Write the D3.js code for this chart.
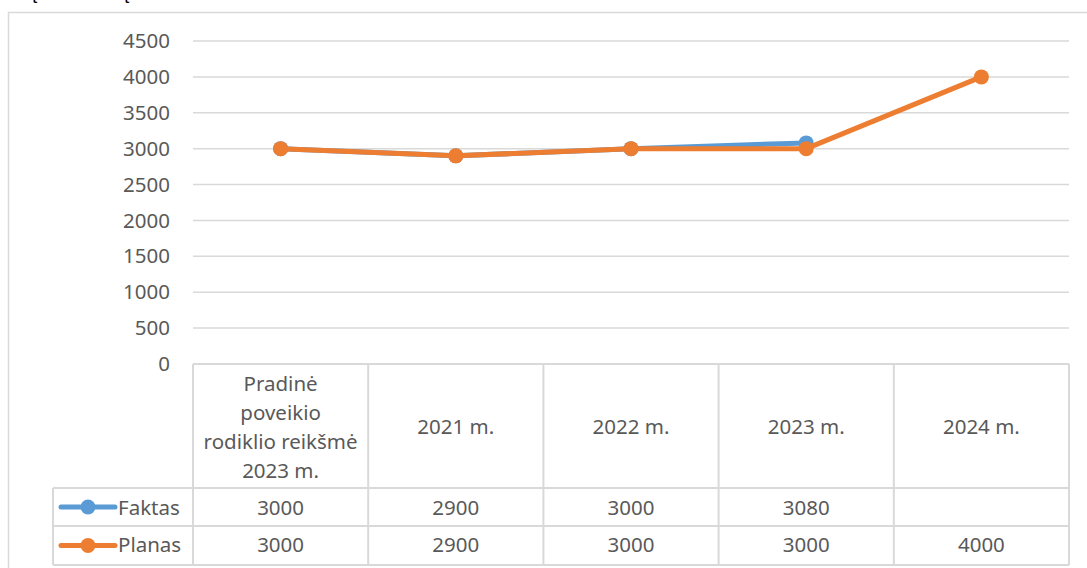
<!DOCTYPE html>
<html>
<head>
<meta charset="utf-8">
<script src="https://cdn.jsdelivr.net/npm/d3@7"></script>
<style>
  body { margin: 0; background: #fff; }
  svg { display: block; font-family: "Noto Sans", sans-serif; }
</style>
</head>
<body>
<div class="root"></div>
<script>
// data
var categories = ['Pradinė poveikio rodiklio reikšmė 2023 m.', '2021 m.', '2022 m.', '2023 m.', '2024 m.'];
var categoryLines = [['Pradinė', 'poveikio', 'rodiklio reikšmė', '2023 m.'], ['2021 m.'], ['2022 m.'], ['2023 m.'], ['2024 m.']];
var faktas = [3000, 2900, 3000, 3080, null];
var planas = [3000, 2900, 3000, 3000, 4000];
var yTicks = [0, 500, 1000, 1500, 2000, 2500, 3000, 3500, 4000, 4500];

var series = [
  { name: 'Faktas', values: faktas, color: '#5b9bd5' },
  { name: 'Planas', values: planas, color: '#ed7d31' }
];

var w = 1087, h = 568;
var textColor = '#595959', gridColor = '#d9d9d9';
var fontSize = 20.5;

var svg = d3.select('.root')
            .append('svg')
            .attr('width', w)
            .attr('height', h);

// bits of text from above the frame, cut by the top edge
svg.append('text').attr('x', 26).attr('y', -2).attr('font-size', 22).attr('fill', '#000').text('ą');
svg.append('text').attr('x', 118).attr('y', -2).attr('font-size', 22).attr('fill', '#000').text('ą');

// chart frame
svg.append('rect')
  .attr('x', 8.5).attr('y', 12.5)
  .attr('width', 1100).attr('height', 600)
  .attr('fill', 'none')
  .attr('stroke', gridColor)
  .attr('stroke-width', 1.5);

var x = d3.scaleBand()
          .domain(categories)
          .range([193, 1069]);

var y = d3.scaleLinear()
          .domain([0, 4500])
          .range([364, 41]);

// gridlines
svg.append('g')
  .selectAll('line')
    .data(yTicks.filter(function(d) { return d > 0; }))
    .enter().append('line')
      .attr('x1', 193).attr('x2', 1069)
      .attr('y1', function(d) { return y(d); })
      .attr('y2', function(d) { return y(d); })
      .attr('stroke', gridColor)
      .attr('stroke-width', 1.5);

// y axis labels
var yAxis = d3.axisLeft(y).tickValues(yTicks).tickFormat(d3.format('d')).tickSize(0).tickPadding(23);
var yg = svg.append('g').attr('transform', 'translate(193,0)').call(yAxis);
yg.select('.domain').remove();
yg.selectAll('text')
  .attr('fill', textColor)
  .attr('font-size', fontSize)
  .attr('font-family', '"Noto Sans", sans-serif');

// data table
var tableTop = 364, headBottom = 488, row1Bottom = 526, row2Bottom = 565, legendLeft = 53;
var tg = svg.append('g').attr('stroke', gridColor).attr('stroke-width', 2);
tg.append('line').attr('x1', 193).attr('x2', 1069).attr('y1', tableTop).attr('y2', tableTop);
[headBottom, row1Bottom, row2Bottom].forEach(function(yy) {
  tg.append('line').attr('x1', legendLeft).attr('x2', 1069).attr('y1', yy).attr('y2', yy);
});
tg.append('line').attr('x1', legendLeft).attr('x2', legendLeft).attr('y1', headBottom).attr('y2', row2Bottom);
categories.forEach(function(c) {
  tg.append('line').attr('x1', x(c)).attr('x2', x(c)).attr('y1', tableTop).attr('y2', row2Bottom);
});
tg.append('line').attr('x1', 1069).attr('x2', 1069).attr('y1', tableTop).attr('y2', row2Bottom);

// header labels
categories.forEach(function(c, i) {
  var lines = categoryLines[i];
  var lh = 29;
  var cy = (tableTop + headBottom) / 2 + 8;
  var t = svg.append('text')
    .attr('text-anchor', 'middle')
    .attr('fill', textColor)
    .attr('font-size', fontSize);
  lines.forEach(function(l, j) {
    t.append('tspan')
      .attr('x', x(c) + x.bandwidth() / 2)
      .attr('y', cy + (j - (lines.length - 1) / 2) * lh)
      .text(l);
  });
});

// value rows with legend keys
var rowBase = [515, 552];
series.forEach(function(s, si) {
  var rowMid = si === 0 ? (headBottom + row1Bottom) / 2 : (row1Bottom + row2Bottom) / 2;
  var leg = svg.append('g');
  leg.append('line')
    .attr('x1', 61).attr('x2', 115)
    .attr('y1', rowMid).attr('y2', rowMid)
    .attr('stroke', s.color).attr('stroke-width', 5).attr('stroke-linecap', 'round');
  leg.append('circle')
    .attr('cx', 88).attr('cy', rowMid).attr('r', 7.5)
    .attr('fill', s.color);
  leg.append('text')
    .attr('x', 118).attr('y', rowBase[si])
    .attr('fill', textColor).attr('font-size', fontSize)
    .text(s.name);

  svg.append('g')
    .selectAll('text')
      .data(s.values)
      .enter().append('text')
        .attr('x', function(d, i) { return x(categories[i]) + x.bandwidth() / 2; })
        .attr('y', rowBase[si])
        .attr('text-anchor', 'middle')
        .attr('fill', textColor)
        .attr('font-size', fontSize)
        .text(function(d) { return d == null ? '' : d; });
});

// lines and markers
var line = d3.line()
  .defined(function(d) { return d != null; })
  .x(function(d, i) { return x(categories[i]) + x.bandwidth() / 2; })
  .y(function(d) { return y(d); });

series.forEach(function(s) {
  var g = svg.append('g');
  g.append('path')
    .datum(s.values)
    .attr('fill', 'none')
    .attr('stroke', s.color)
    .attr('stroke-width', 5)
    .attr('stroke-linejoin', 'round')
    .attr('d', line);
  g.selectAll('circle')
    .data(s.values.map(function(v, i) { return { v: v, i: i }; }).filter(function(d) { return d.v != null; }))
    .enter().append('circle')
      .attr('cx', function(d) { return x(categories[d.i]) + x.bandwidth() / 2; })
      .attr('cy', function(d) { return y(d.v); })
      .attr('r', 7.5)
      .attr('fill', s.color);
});
</script>
</body>
</html>
